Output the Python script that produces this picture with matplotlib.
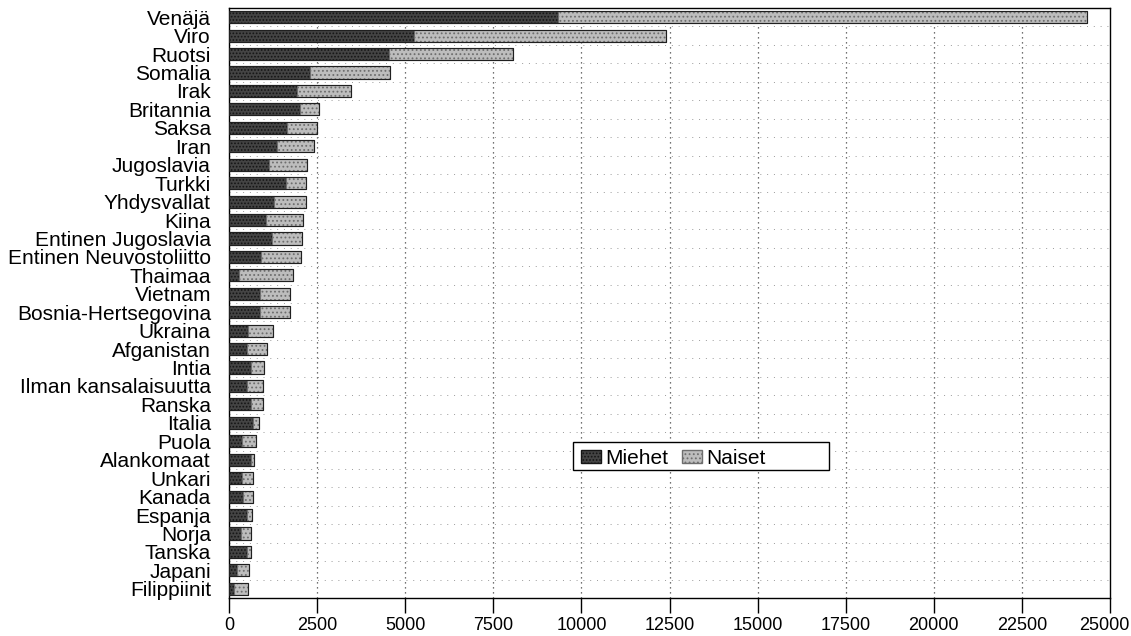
import matplotlib
matplotlib.use("Agg")
import matplotlib.pyplot as plt
import matplotlib.transforms as mtransforms
import numpy as np
from matplotlib.patches import Patch, Rectangle

countries = ["Venäjä", "Viro", "Ruotsi", "Somalia", "Irak", "Britannia", "Saksa", "Iran",
             "Jugoslavia", "Turkki", "Yhdysvallat", "Kiina", "Entinen Jugoslavia",
             "Entinen Neuvostoliitto", "Thaimaa", "Vietnam", "Bosnia-Hertsegovina", "Ukraina",
             "Afganistan", "Intia", "Ilman kansalaisuutta", "Ranska", "Italia", "Puola",
             "Alankomaat", "Unkari", "Kanada", "Espanja", "Norja", "Tanska", "Japani", "Filippiinit"]
miehet = [9340, 5240, 4540, 2300, 1920, 2010, 1640, 1350,
          1140, 1610, 1280, 1040, 1210,
          900, 290, 880, 870, 550,
          520, 615, 500, 615, 670, 360,
          615, 360, 390, 500, 330, 500, 240, 140]
yhteensa = [24350, 12410, 8055, 4560, 3460, 2560, 2500, 2410,
            2220, 2190, 2190, 2110, 2060,
            2035, 1810, 1740, 1730, 1260,
            1070, 1000, 955, 955, 860, 770,
            710, 690, 670, 645, 615, 615, 580, 550]
naiset = [t - m for t, m in zip(yhteensa, miehet)]
xticks = [0, 2500, 5000, 7500, 10000, 12500, 15000, 17500, 20000, 22500, 25000]

plt.rcParams['font.family'] = ['Liberation Sans', 'DejaVu Sans']
plt.rcParams['hatch.linewidth'] = 0.8

fig = plt.figure(figsize=(11.31, 6.36), dpi=100)
ax = fig.add_axes([229/1131, 38/636, 881/1131, 590/636])

y = np.arange(len(countries))
h = 0.66
men_col = '#444444'
women_col = '#bdbdbd'
ax.barh(y, miehet, height=h, color=men_col, edgecolor='#151515', linewidth=0.8,
        hatch='.....', zorder=3)
ax.barh(y, naiset, left=miehet, height=h, color=women_col, edgecolor='#6e6e6e',
        linewidth=0.8, hatch='....', zorder=3)
ax.barh(y, yhteensa, height=h, fill=False, edgecolor='#202020', linewidth=0.8, zorder=4)

ax.set_xlim(0, 25000)
ax.set_ylim(len(countries) - 0.5, -0.5)
ax.set_yticks(y)
ax.set_yticklabels(countries, fontsize=15)
ax.tick_params(axis='y', length=0, pad=13)
ax.set_xticks(xticks)
ax.set_xticklabels([str(v) for v in xticks], fontsize=13)
ax.tick_params(axis='x', direction='out', length=11, width=1, pad=3, color='black')
last = ax.get_xticklabels()[-1]
last.set_transform(last.get_transform() + mtransforms.ScaledTranslation(-6/100, 0, fig.dpi_scale_trans))

for xv in xticks[1:-1]:
    ax.axvline(xv, color='#444444', linestyle=(0, (1, 3)), linewidth=0.9, zorder=1)
for yb in np.arange(0.5, len(countries) - 1, 1.0):
    ax.axhline(yb, color='#9a9a9a', linestyle=(0, (1, 6)), linewidth=0.7, zorder=1)

for s in ax.spines.values():
    s.set_color('black')
    s.set_linewidth(1.0)

# legend frame (wider than its entries, as in the original)
ax.add_patch(Rectangle((0.3905, 0.2169), 0.2906, 0.0475, transform=ax.transAxes,
                       facecolor='white', edgecolor='black', linewidth=1.0, zorder=5))
handles = [Patch(facecolor=men_col, edgecolor='#151515', hatch='.....', label='Miehet'),
           Patch(facecolor=women_col, edgecolor='#6e6e6e', hatch='....', label='Naiset')]
leg = ax.legend(handles=handles, ncol=2, loc='center left', bbox_to_anchor=(0.3995, 0.2366),
                fontsize=15, frameon=False, handlelength=0.96, handleheight=0.62,
                handletextpad=0.2, columnspacing=0.67, borderpad=0, borderaxespad=0)
leg.set_zorder(6)

fig.savefig('out.png', dpi=100, facecolor='white')
